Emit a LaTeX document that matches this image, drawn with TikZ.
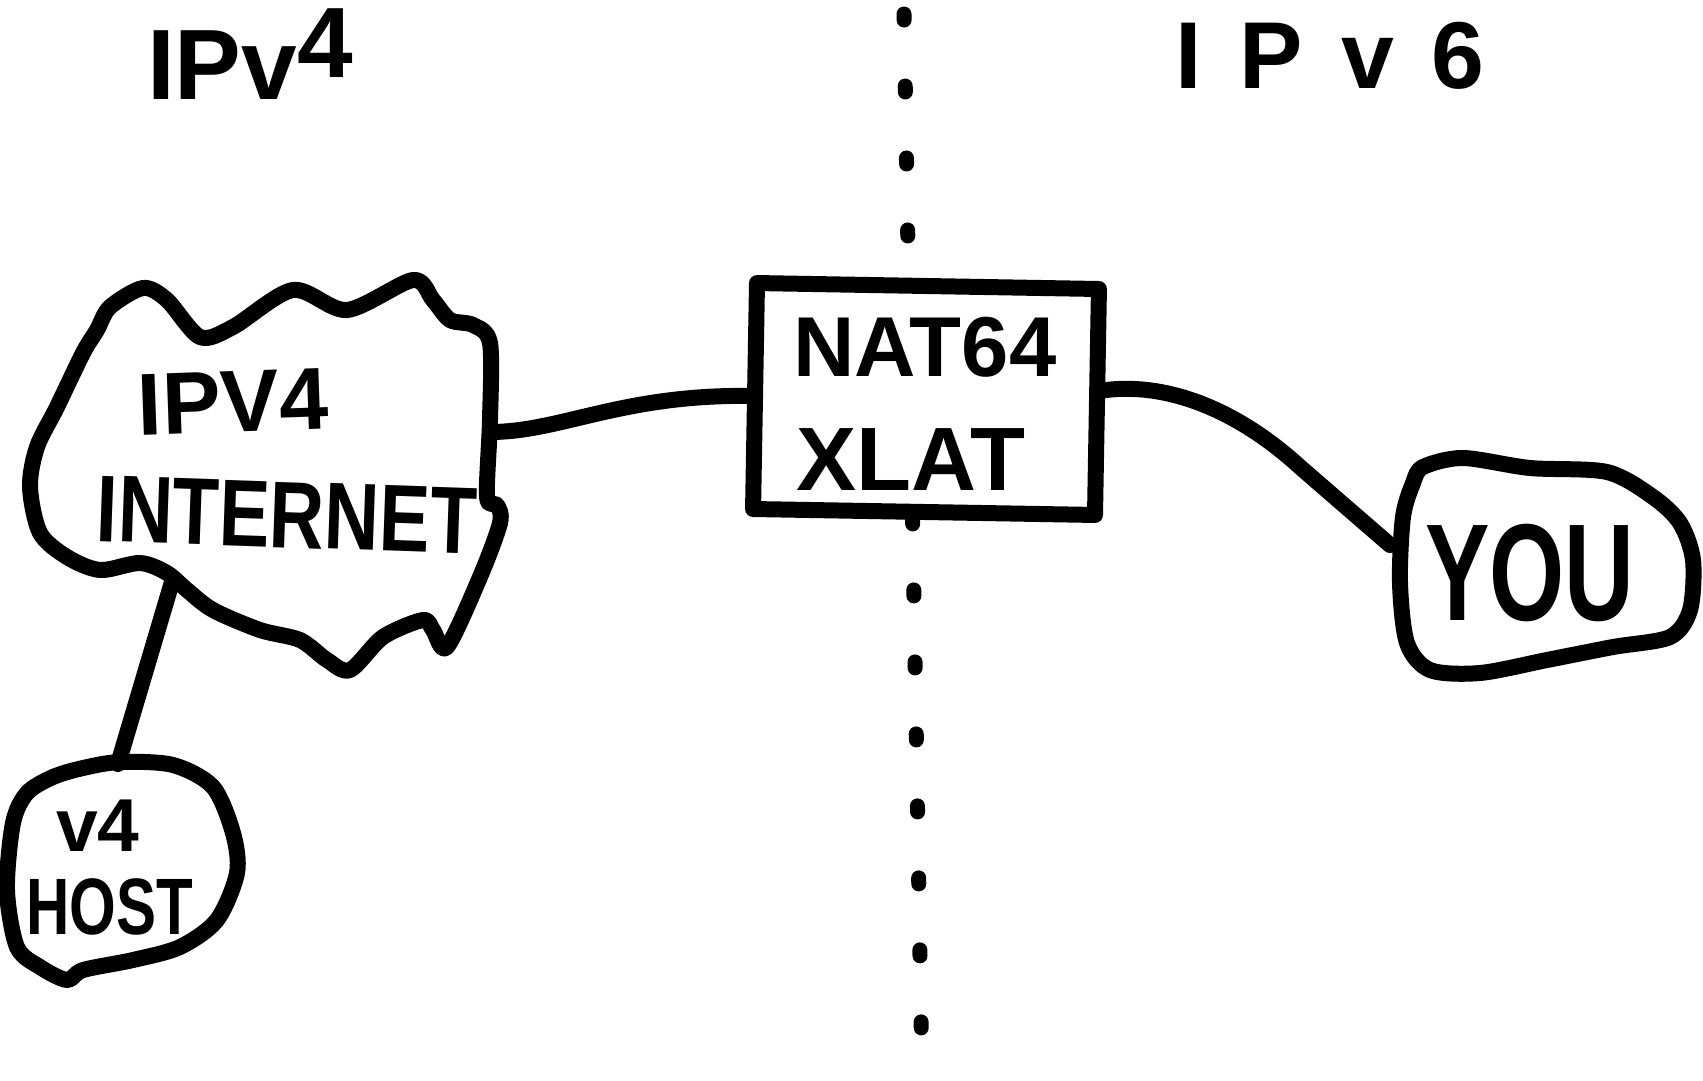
\documentclass[tikz,border=0pt]{standalone}
\usepackage{fontspec}
\setmainfont{Liberation Sans}
\newcommand\hfs[1]{\fontsize{#1pt}{#1pt}\selectfont\bfseries}
\begin{document}
\begin{tikzpicture}[x=1pt,y=-1pt,line width=16pt,line cap=round,line join=round,
  lbl/.style={inner sep=0pt,text=black},
  blob/.style={draw=black,line width=16pt},
  wire/.style={draw=black,line width=16pt},
  dots/.style={draw=black,line width=15pt,dash pattern=on 6pt off 66pt}]
\useasboundingbox[fill=white] (0,0) rectangle (1703,1080);

% divider
\coordinate (dotTop) at (904,14);
\coordinate (dotBot) at (922,1074);
\draw[dots] (dotTop) -- (dotBot);

% titles
\node[lbl,font=\hfs{100}] (t4) at (250,54) {IPv\raisebox{22pt}{4}};
\node[lbl,font=\hfs{95}] (t6) at (1330,56) {I\hspace{38pt}P\hspace{38pt}v\hspace{38pt}6};

% box
\node[draw=black,fill=white,line width=16pt,minimum width=342pt,minimum height=226pt,
      rotate=-1,inner sep=0pt] (box) at (926,399) {};
\node[lbl,font=\hfs{85}] (nat) at (925,347) {NAT64};
\node[lbl,font=\hfs{90}] (xlat) at (911,460) {XLAT};

% cloud
\draw[blob] plot[smooth cycle,tension=0.5] coordinates {
 (97,330) (110,307) (143,288) (167,300) (200,337) (233,327) (293,290) (347,310)
 (413,280) (433,300) (450,320) (473,325) (490,343) (490,420) (487,497) (497,505)
 (500,523) (480,577) (447,647) (433,630) (423,620) (383,637) (350,670) (327,660)
 (300,640) (260,630) (213,610) (187,590) (167,573) (140,563) (100,570) (67,557)
 (40,533) (30,487) (37,447) (57,407) (83,353)};
\coordinate (cloudE) at (490,432);
\coordinate (cloudS) at (172,582);
\node[lbl,font=\hfs{88},rotate=2] (c1) at (233,402) {IPV4};
\node[lbl,font=\hfs{95},rotate=-2] (c2) at (287,515) {\scalebox{0.8}[1]{INTERNET}};

% you
\draw[blob] plot[smooth cycle,tension=0.5] coordinates {
 (1423,467) (1463,458) (1530,468) (1607,472) (1653,497) (1680,523) (1693,560)
 (1690,610) (1670,637) (1613,647) (1547,660) (1480,673) (1430,670) (1407,643)
 (1400,583) (1403,517) (1413,483)};
\coordinate (youW) at (1390,545);
\node[lbl,font=\hfs{138}] (you) at (1530,573) {\scalebox{0.7}[1]{YOU}};

% v4 host
\draw[blob] plot[smooth cycle,tension=0.5] coordinates {
 (120,762) (173,765) (213,787) (233,833) (237,873) (217,920) (180,947) (133,960)
 (83,970) (67,980) (40,967) (17,947) (7,890) (13,823) (27,793) (53,777) (83,768)};
\coordinate (hostN) at (118,764);
\node[lbl,font=\hfs{75}] (v4) at (98,826) {v4};
\node[lbl,font=\hfs{80}] (host) at (110,907) {\scalebox{0.75}[1]{HOST}};

% connectors
\draw[wire] (cloudE) .. controls (560,432) and (620,395) .. (box.west);
\draw[wire] ([yshift=12pt]box.east) .. controls (1170,382) and (1240,412) .. (1300,467) -- (youW);
\draw[wire] (cloudS) -- (hostN);
\end{tikzpicture}
\end{document}
